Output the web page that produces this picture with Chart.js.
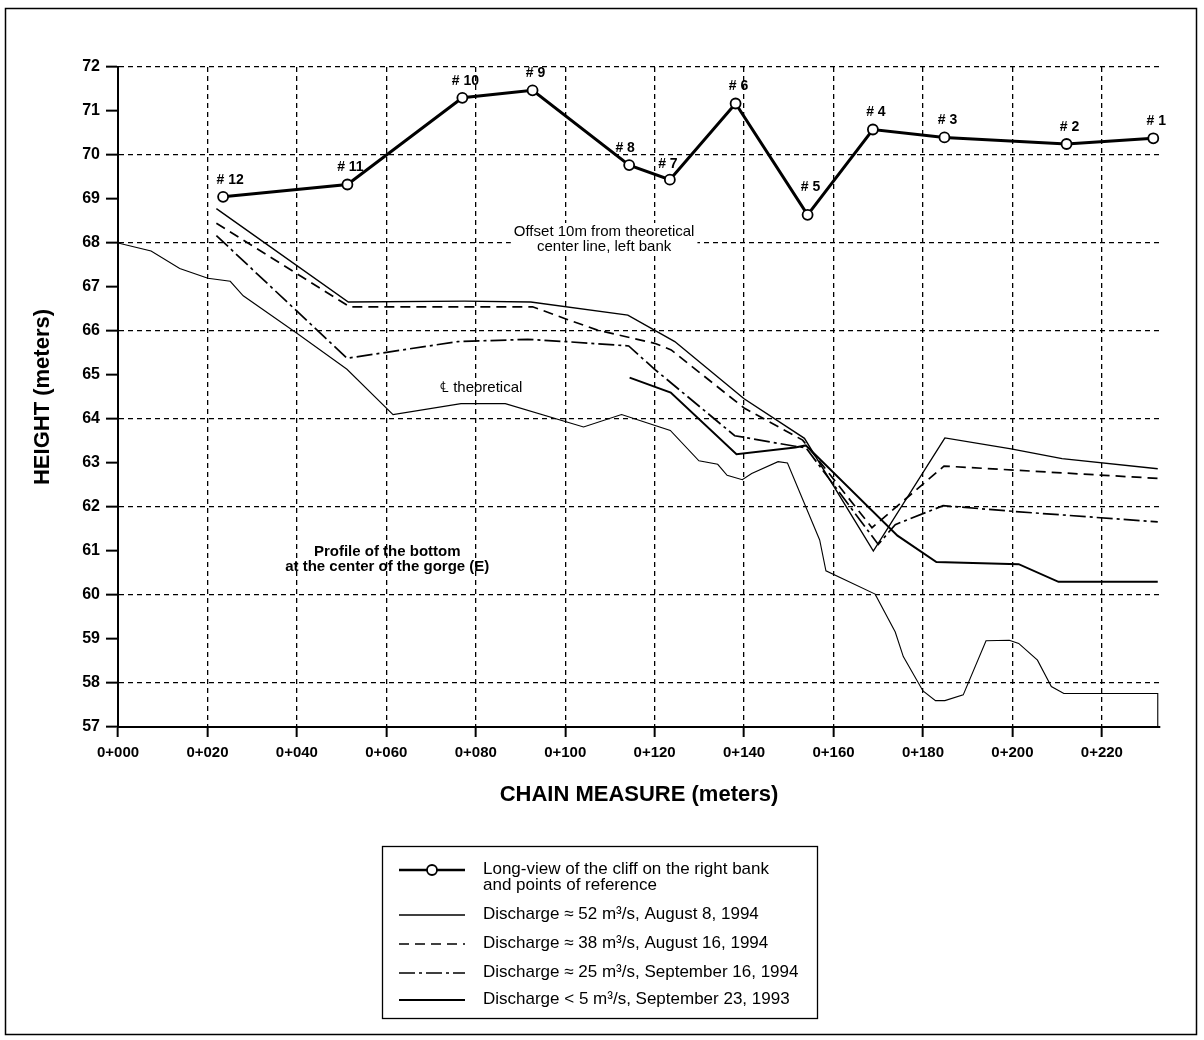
<!DOCTYPE html>
<html>
<head>
<meta charset="utf-8">
<title>Chain measure profile</title>
<script src="https://cdn.jsdelivr.net/npm/chart.js@4.4.1/dist/chart.umd.min.js"></script>
<style>
  html, body { margin: 0; padding: 0; background: #fff; }
  #wrap { width: 1204px; height: 1040px; }
</style>
</head>
<body>
<div id="wrap"><canvas id="myChart" width="1204" height="1040"></canvas></div>
<script>
// cliff on the right bank, reference points #12 .. #1
const cliffNames = ['# 12', '# 11', '# 10', '# 9', '# 8', '# 7', '# 6', '# 5', '# 4', '# 3', '# 2', '# 1']
const cliffX = [23.5, 51.3, 77.0, 92.7, 114.3, 123.4, 138.1, 154.2, 168.8, 184.8, 212.1, 231.5]
const cliffY = [69.05, 69.33, 71.3, 71.47, 69.77, 69.44, 71.17, 68.64, 70.58, 70.4, 70.25, 70.38]

// discharge ~52 m3/s, August 8, 1994
const q52X = [22, 51.5, 77.5, 92.3, 114.0, 124.5, 140, 153.5, 168.9, 184.9, 199.7, 211.1, 232.5]
const q52Y = [68.78, 66.66, 66.68, 66.66, 66.36, 65.76, 64.46, 63.56, 61.0, 63.57, 63.32, 63.1, 62.87]

// discharge ~38 m3/s, August 16, 1994
const q38X = [22, 51.8, 92.7, 100, 107.2, 120, 123.7, 140, 153.1, 168.6, 184.7, 232.5]
const q38Y = [68.45, 66.55, 66.55, 66.28, 66.02, 65.72, 65.57, 64.25, 63.52, 61.53, 62.93, 62.65]

// discharge ~25 m3/s, September 16, 1994
const q25X = [22, 51.2, 76, 91.6, 100, 114.2, 120, 137.9, 151.4, 153.8, 170, 173.8, 184.5, 200.3, 232.5]
const q25Y = [68.17, 65.38, 65.76, 65.81, 65.76, 65.66, 65.13, 63.62, 63.38, 63.35, 61.15, 61.6, 62.03, 61.9, 61.66]

// discharge < 5 m3/s, September 23, 1993
const q5X = [114.4, 123.6, 138.3, 151.4, 153.8, 174.3, 183.0, 201.4, 210.3, 232.5]
const q5Y = [64.94, 64.6, 63.2, 63.35, 63.4, 61.35, 60.75, 60.7, 60.3, 60.3]

// profile of the bottom at the centre of the gorge
const bedX = [0, 7.4, 13.8, 20.1, 25.1, 28, 40, 51.2, 61.5, 76.7, 86.6, 104.1, 112.6, 123.5, 129.9, 134.1, 136.2, 139.6, 141.7, 147.6, 149.7, 156.9, 158.3, 169.3, 173.8, 175.6, 180, 182.8, 184.9, 189, 194.1, 199.3, 201.4, 205.6, 208.7, 211.5, 232.5, 232.5]
const bedY = [68, 67.82, 67.42, 67.2, 67.13, 66.8, 65.95, 65.13, 64.1, 64.35, 64.35, 63.82, 64.1, 63.74, 63.05, 62.97, 62.72, 62.62, 62.76, 63.03, 63.0, 61.25, 60.55, 60.02, 59.16, 58.6, 57.82, 57.6, 57.6, 57.73, 58.96, 58.97, 58.9, 58.52, 57.92, 57.76, 57.76, 57.0]

const xTicks = [0, 20, 40, 60, 80, 100, 120, 140, 160, 180, 200, 220]
const xTitle = 'CHAIN MEASURE (meters)'
const yTitle = 'HEIGHT (meters)'

const legendTexts = [
  ['Long-view of the cliff on the right bank', 'and points of reference'],
  ['Discharge \u2248 52 m\u00b3/s, August 8, 1994'],
  ['Discharge \u2248 38 m\u00b3/s, August 16, 1994'],
  ['Discharge \u2248 25 m\u00b3/s, September 16, 1994'],
  ['Discharge < 5 m\u00b3/s, September 23, 1993']
]

const FONT = "'Liberation Sans', Arial, Helvetica, sans-serif"
Chart.defaults.font.family = FONT
Chart.defaults.color = '#000'

function toPts(xs, ys) {
  return xs.map((x, i) => ({ x: x, y: ys[i] }))
}

const framePlugin = {
  id: 'frame',
  beforeDraw(chart) {
    const ctx = chart.ctx
    ctx.save()
    ctx.fillStyle = '#fff'
    ctx.fillRect(0, 0, chart.width, chart.height)
    ctx.strokeStyle = '#000'
    ctx.lineWidth = 1.5
    ctx.strokeRect(5.5, 8.5, 1191, 1026)
    ctx.restore()
  }
}

// notes written inside the plot, placed with the scales
const notesPlugin = {
  id: 'notes',
  beforeDatasetsDraw(chart) {
    const ctx = chart.ctx
    const xs = chart.scales.x, ys = chart.scales.y
    ctx.save()
    ctx.font = '15px ' + FONT
    ctx.textAlign = 'center'
    ctx.textBaseline = 'middle'
    const cx = xs.getPixelForValue(108.7)
    const l1 = ys.getPixelForValue(68.25), l2 = ys.getPixelForValue(67.91)
    const w = ctx.measureText('Offset 10m from theoretical').width
    ctx.fillStyle = '#fff'
    ctx.fillRect(cx - w / 2 - 3, l1 - 9, w + 6, l2 - l1 + 18)
    ctx.fillStyle = '#000'
    ctx.fillText('Offset 10m from theoretical', cx, l1)
    ctx.fillText('center line, left bank', cx, l2)

    ctx.textAlign = 'left'
    ctx.fillText('\u2104 theoretical', xs.getPixelForValue(72), ys.getPixelForValue(64.7))

    ctx.font = 'bold 15px ' + FONT
    ctx.textAlign = 'center'
    const px = xs.getPixelForValue(60.2)
    ctx.fillText('Profile of the bottom', px, ys.getPixelForValue(60.98))
    ctx.fillText('at the center of the gorge (E)', px, ys.getPixelForValue(60.64))
    ctx.restore()
  },
  afterDatasetsDraw(chart) {
    const ctx = chart.ctx
    const meta = chart.getDatasetMeta(0)
    ctx.save()
    ctx.font = 'bold 14px ' + FONT
    ctx.textAlign = 'center'
    ctx.textBaseline = 'middle'
    ctx.fillStyle = '#000'
    meta.data.forEach((pt, i) => {
      const name = cliffNames[i]
      let dx = 3, dy = -17
      if (name === '# 5') dy = -28
      if (name === '# 12') dx = 7
      if (name === '# 7') { dx = -2; dy = -15 }
      if (name === '# 8') dx = -4
      ctx.fillText(name, pt.x + dx, pt.y + dy)
    })
    ctx.restore()
  }
}

const legendPlugin = {
  id: 'boxLegend',
  afterDraw(chart) {
    const ctx = chart.ctx
    const rows = [869, 914, 943, 972, 999]
    ctx.save()
    ctx.strokeStyle = '#000'
    ctx.lineWidth = 1.3
    ctx.strokeRect(382.5, 846.5, 435, 172)
    ctx.font = '17px ' + FONT
    ctx.textBaseline = 'middle'
    ctx.textAlign = 'left'
    legendTexts.forEach((lines, i) => {
      const ds = chart.data.datasets[i]
      const y = rows[i] + 1
      ctx.save()
      ctx.strokeStyle = ds.borderColor
      ctx.lineWidth = i === 0 ? 2.5 : ds.borderWidth
      ctx.setLineDash(ds.borderDash || [])
      ctx.beginPath()
      ctx.moveTo(399, y)
      ctx.lineTo(465, y)
      ctx.stroke()
      if (i === 0) {
        ctx.setLineDash([])
        ctx.fillStyle = '#fff'
        ctx.lineWidth = 1.8
        ctx.beginPath()
        ctx.arc(432, y, 5, 0, Math.PI * 2)
        ctx.fill()
        ctx.stroke()
      }
      ctx.restore()
      ctx.fillStyle = '#000'
      lines.forEach((t, k) => ctx.fillText(t, 483, rows[i] + k * 16))
    })
    ctx.restore()
  }
}

const lineBase = { showLine: true, pointRadius: 0, borderColor: '#000', fill: false, tension: 0 }

const config = {
  type: 'scatter',
  data: {
    datasets: [
      { label: 'cliff', data: toPts(cliffX, cliffY), showLine: true, borderColor: '#000', borderWidth: 3,
        pointRadius: 5, pointBackgroundColor: '#fff', pointBorderColor: '#000', pointBorderWidth: 1.8 },
      Object.assign({ label: 'q52', data: toPts(q52X, q52Y), borderWidth: 1.4 }, lineBase),
      Object.assign({ label: 'q38', data: toPts(q38X, q38Y), borderWidth: 1.7, borderDash: [10, 6] }, lineBase),
      Object.assign({ label: 'q25', data: toPts(q25X, q25Y), borderWidth: 1.7, borderDash: [16, 4, 3, 4] }, lineBase),
      Object.assign({ label: 'q5', data: toPts(q5X, q5Y), borderWidth: 2 }, lineBase),
      Object.assign({ label: 'bed', data: toPts(bedX, bedY), borderWidth: 1.1 }, lineBase)
    ]
  },
  options: {
    responsive: false,
    animation: false,
    devicePixelRatio: 1,
    layout: { padding: { left: 20, top: 67, right: 44, bottom: 220 } },
    plugins: { legend: { display: false }, tooltip: { enabled: false } },
    scales: {
      x: {
        type: 'linear', min: 0, max: 233,
        afterBuildTicks: s => { s.ticks = xTicks.map(v => ({ value: v })) },
        afterFit: s => { s.height = 93 },
        ticks: {
          callback: v => '0+' + String(v).padStart(3, '0'),
          font: { size: 15, weight: 'bold' }, padding: 7, maxRotation: 0, autoSkip: false
        },
        grid: {
          color: c => (c.tick && c.tick.value === 0) ? 'rgba(0,0,0,0)' : '#000',
          lineWidth: 1.3, tickLength: 10, tickWidth: 2, tickColor: '#000', tickBorderDash: []
        },
        border: { color: '#000', width: 2, dash: [5, 4] },
        title: { display: true, text: xTitle, font: { size: 22, weight: 'bold' }, padding: { top: 0, bottom: 12 } }
      },
      y: {
        min: 57, max: 72,
        afterFit: s => { s.width = 98 },
        ticks: { stepSize: 1, font: { size: 16, weight: 'bold' }, padding: 6 },
        grid: {
          color: c => (c.tick && c.tick.value % 2 === 0) ? '#000' : 'rgba(0,0,0,0)',
          lineWidth: 1.3, tickLength: 12, tickWidth: 2, tickColor: '#000', tickBorderDash: []
        },
        border: { color: '#000', width: 2, dash: [5, 4] },
        title: { display: true, text: yTitle, font: { size: 22, weight: 'bold' }, padding: { top: 10, bottom: 0 } }
      }
    }
  },
  plugins: [framePlugin, notesPlugin, legendPlugin]
}

const myChart = document.getElementById('myChart')
new Chart(myChart, config)
</script>
</body>
</html>
